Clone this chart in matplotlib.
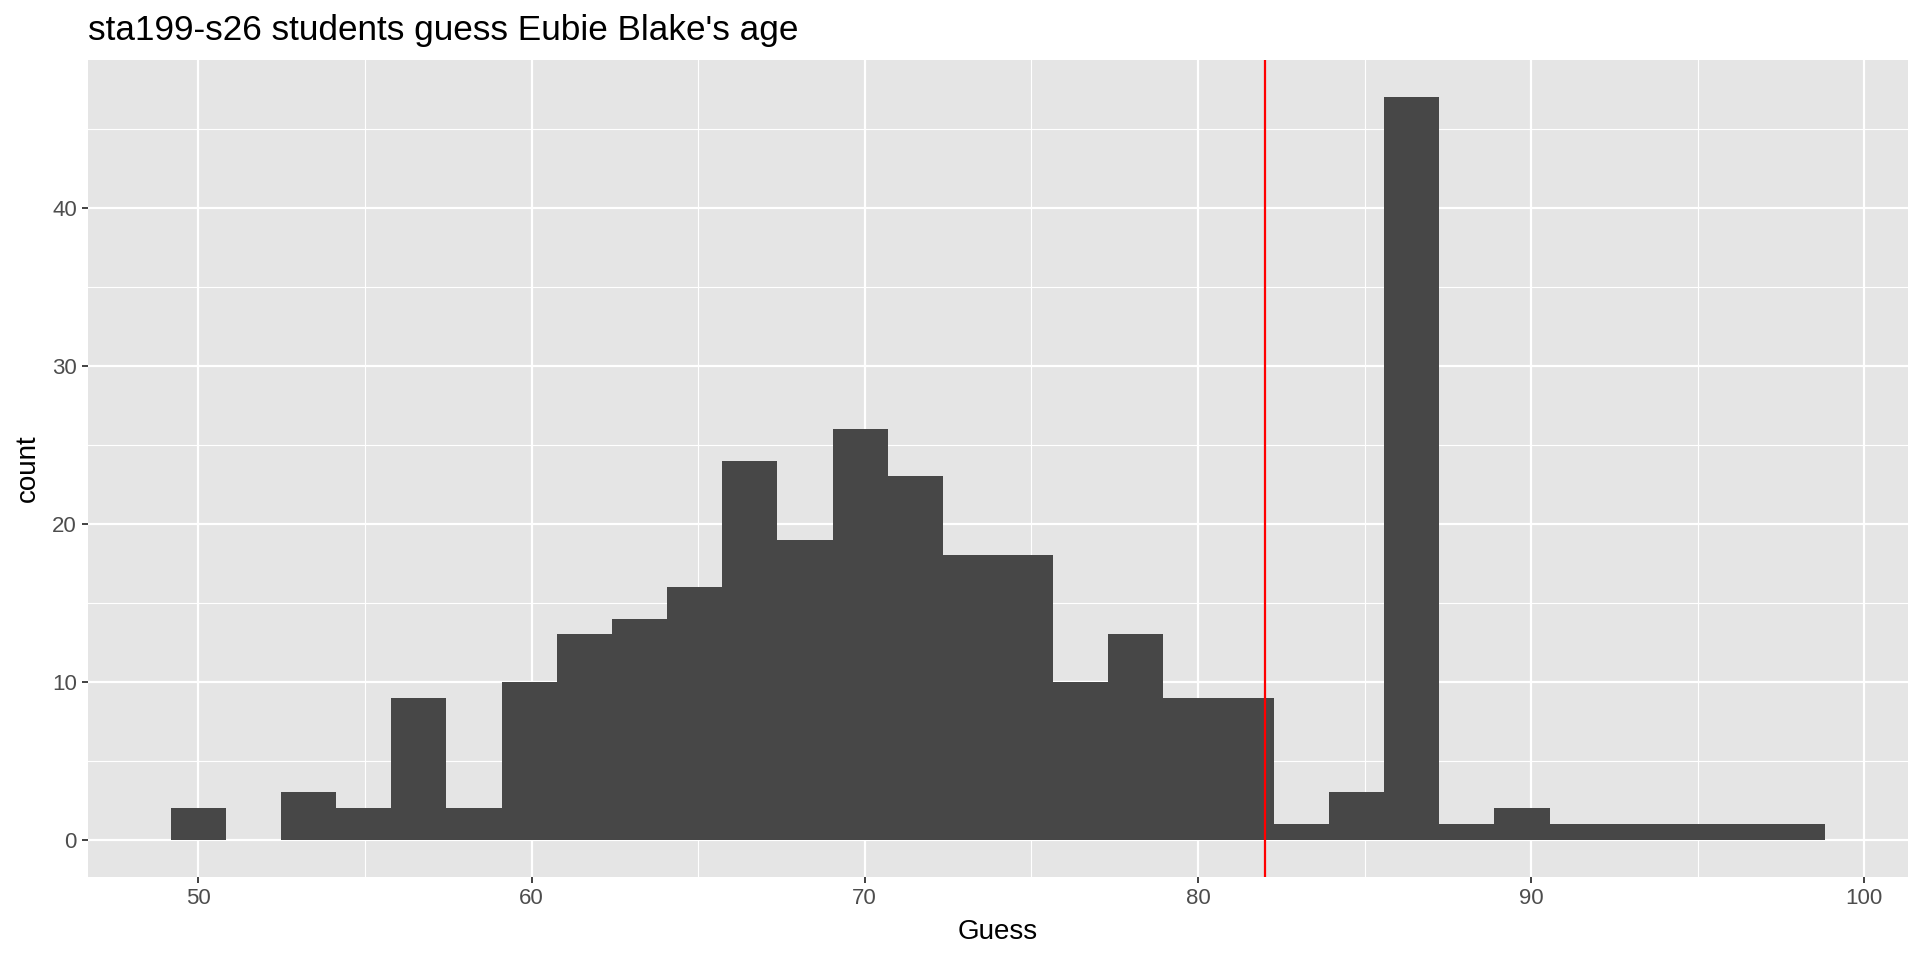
import numpy as np
import matplotlib.pyplot as plt
from matplotlib.ticker import MultipleLocator

# histogram of guesses: 30 bins spanning guesses from 50 to 98 (ggplot style bins)
guess_min = 50
guess_max = 98
n_bins = 30
counts = [2, 0, 3, 2, 9, 2, 10, 13, 14, 16,
          24, 19, 26, 23, 18, 18, 10, 13, 9, 9,
          1, 3, 47, 1, 2, 1, 1, 1, 1, 1]
true_age = 82
title = "sta199-s26 students guess Eubie Blake's age"

plt.rcParams['font.family'] = ['Liberation Sans', 'DejaVu Sans']

width = (guess_max - guess_min) / (n_bins - 1)
centers = guess_min + width * np.arange(n_bins)

fig = plt.figure(figsize=(19.2, 9.6), dpi=100)
ax = fig.add_axes([88 / 1920, 1 - 877 / 960, (1908 - 88) / 1920, (877 - 60) / 960])
ax.set_facecolor('#E5E5E5')

ax.bar(centers, counts, width=width, color='#474747', linewidth=0, zorder=3)
ax.axvline(true_age, color='#FF0000', linewidth=1.6, zorder=4)

lo = centers[0] - width / 2
hi = centers[-1] + width / 2
pad = (hi - lo) * 0.05
ax.set_xlim(lo - pad, hi + pad)
ypad = max(counts) * 0.05
ax.set_ylim(-ypad, max(counts) + ypad)

ax.xaxis.set_major_locator(MultipleLocator(10))
ax.xaxis.set_minor_locator(MultipleLocator(5))
ax.yaxis.set_major_locator(MultipleLocator(10))
ax.yaxis.set_minor_locator(MultipleLocator(5))
ax.grid(which='major', color='white', linewidth=1.6, zorder=1)
ax.grid(which='minor', color='white', linewidth=0.8, zorder=1)
ax.set_axisbelow(True)
for s in ax.spines.values():
    s.set_visible(False)

ax.tick_params(which='major', length=4, width=1.3, color='#333333',
               labelsize=16, labelcolor='#4D4D4D', pad=4)
ax.tick_params(which='minor', length=0)

ax.set_xlabel('Guess', fontsize=20, color='black', labelpad=7)
ax.set_ylabel('count', fontsize=20, color='black', labelpad=8)
fig.text(88 / 1920, 1 - 40 / 960, title, fontsize=25.3, color='black',
         ha='left', va='baseline')

fig.savefig('out.png', dpi=100)
